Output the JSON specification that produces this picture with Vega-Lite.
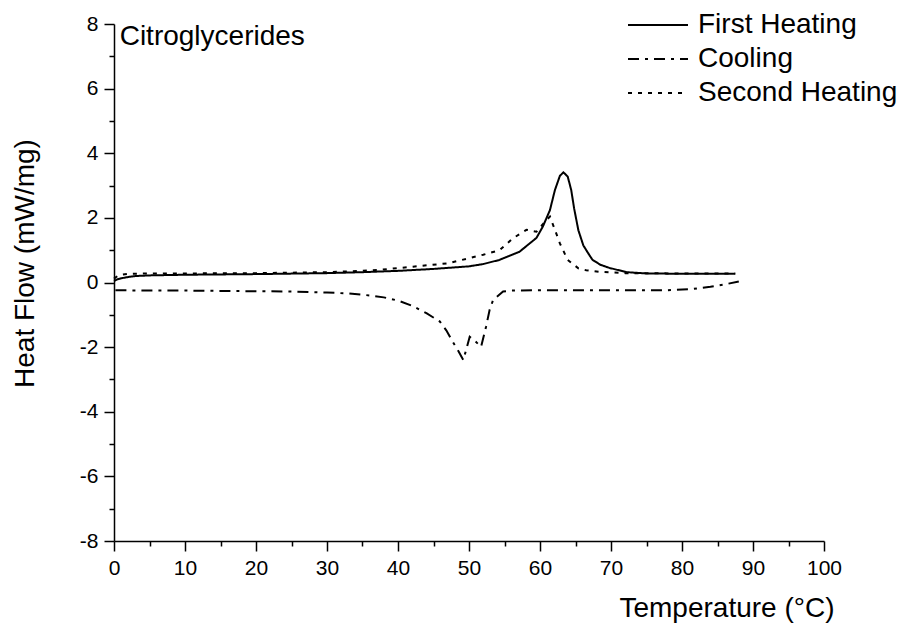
{
  "$schema": "https://vega.github.io/schema/vega-lite/v6.json",
  "width": 710,
  "height": 517,
  "autosize": {"type": "none"},
  "padding": {"left": 114, "top": 24, "right": 74, "bottom": 85},
  "background": "white",
  "config": {
    "view": {"stroke": null},
    "font": "Liberation Sans",
    "axis": {
      "grid": false,
      "domainColor": "black",
      "domainWidth": 1.5,
      "tickColor": "black",
      "tickWidth": 1.5,
      "labelColor": "black",
      "labelFont": "Liberation Sans",
      "labelFontSize": 21,
      "labelOverlap": false,
      "labelFlush": false,
      "labelPadding": 6,
      "titleColor": "black",
      "titleFont": "Liberation Sans",
      "titleFontSize": 28,
      "titleFontWeight": "normal"
    }
  },
  "resolve": {"axis": {"x": "independent", "y": "independent"}},
  "datasets": {
    "curves": [
      {"s": "First Heating", "t": 0, "h": 0.05},
      {"s": "First Heating", "t": 0.5, "h": 0.1},
      {"s": "First Heating", "t": 1, "h": 0.13},
      {"s": "First Heating", "t": 2, "h": 0.17},
      {"s": "First Heating", "t": 3, "h": 0.2},
      {"s": "First Heating", "t": 5, "h": 0.22},
      {"s": "First Heating", "t": 10, "h": 0.24},
      {"s": "First Heating", "t": 20, "h": 0.26},
      {"s": "First Heating", "t": 30, "h": 0.29},
      {"s": "First Heating", "t": 35, "h": 0.32},
      {"s": "First Heating", "t": 40, "h": 0.36},
      {"s": "First Heating", "t": 45, "h": 0.42},
      {"s": "First Heating", "t": 50, "h": 0.5},
      {"s": "First Heating", "t": 52, "h": 0.57},
      {"s": "First Heating", "t": 54.3, "h": 0.7},
      {"s": "First Heating", "t": 57.1, "h": 0.95},
      {"s": "First Heating", "t": 59.5, "h": 1.38},
      {"s": "First Heating", "t": 60.4, "h": 1.73},
      {"s": "First Heating", "t": 61.4, "h": 2.24},
      {"s": "First Heating", "t": 62.1, "h": 2.86},
      {"s": "First Heating", "t": 62.8, "h": 3.3},
      {"s": "First Heating", "t": 63.3, "h": 3.41},
      {"s": "First Heating", "t": 63.9, "h": 3.28},
      {"s": "First Heating", "t": 64.4, "h": 2.86},
      {"s": "First Heating", "t": 64.8, "h": 2.3},
      {"s": "First Heating", "t": 65.4, "h": 1.62},
      {"s": "First Heating", "t": 66.1, "h": 1.15},
      {"s": "First Heating", "t": 66.8, "h": 0.9},
      {"s": "First Heating", "t": 67.4, "h": 0.7},
      {"s": "First Heating", "t": 68.5, "h": 0.55},
      {"s": "First Heating", "t": 69.8, "h": 0.45},
      {"s": "First Heating", "t": 72.2, "h": 0.32},
      {"s": "First Heating", "t": 75, "h": 0.28},
      {"s": "First Heating", "t": 80, "h": 0.27},
      {"s": "First Heating", "t": 85, "h": 0.27},
      {"s": "First Heating", "t": 87.5, "h": 0.27},
      {"s": "Cooling", "t": 0.2, "h": -0.24},
      {"s": "Cooling", "t": 5, "h": -0.25},
      {"s": "Cooling", "t": 10, "h": -0.25},
      {"s": "Cooling", "t": 15, "h": -0.26},
      {"s": "Cooling", "t": 20, "h": -0.27},
      {"s": "Cooling", "t": 25, "h": -0.28},
      {"s": "Cooling", "t": 30, "h": -0.31},
      {"s": "Cooling", "t": 33, "h": -0.34},
      {"s": "Cooling", "t": 36, "h": -0.4},
      {"s": "Cooling", "t": 38, "h": -0.46},
      {"s": "Cooling", "t": 40, "h": -0.56},
      {"s": "Cooling", "t": 42, "h": -0.72},
      {"s": "Cooling", "t": 44, "h": -0.95},
      {"s": "Cooling", "t": 45.9, "h": -1.21},
      {"s": "Cooling", "t": 46.8, "h": -1.48},
      {"s": "Cooling", "t": 47.7, "h": -1.83},
      {"s": "Cooling", "t": 48.5, "h": -2.12},
      {"s": "Cooling", "t": 49.2, "h": -2.4},
      {"s": "Cooling", "t": 50.1, "h": -1.68},
      {"s": "Cooling", "t": 50.9, "h": -1.82},
      {"s": "Cooling", "t": 51.7, "h": -1.99},
      {"s": "Cooling", "t": 52.4, "h": -1.37},
      {"s": "Cooling", "t": 52.9, "h": -0.85},
      {"s": "Cooling", "t": 53.4, "h": -0.54},
      {"s": "Cooling", "t": 54.8, "h": -0.28},
      {"s": "Cooling", "t": 56, "h": -0.25},
      {"s": "Cooling", "t": 60, "h": -0.24},
      {"s": "Cooling", "t": 70, "h": -0.24},
      {"s": "Cooling", "t": 78, "h": -0.24},
      {"s": "Cooling", "t": 81.5, "h": -0.2},
      {"s": "Cooling", "t": 84, "h": -0.13},
      {"s": "Cooling", "t": 86, "h": -0.06},
      {"s": "Cooling", "t": 88, "h": 0.03},
      {"s": "Second Heating", "t": 0, "h": 0.12},
      {"s": "Second Heating", "t": 0.5, "h": 0.2},
      {"s": "Second Heating", "t": 1, "h": 0.24},
      {"s": "Second Heating", "t": 2, "h": 0.27},
      {"s": "Second Heating", "t": 5, "h": 0.28},
      {"s": "Second Heating", "t": 10, "h": 0.28},
      {"s": "Second Heating", "t": 20, "h": 0.29},
      {"s": "Second Heating", "t": 30, "h": 0.32},
      {"s": "Second Heating", "t": 35, "h": 0.36},
      {"s": "Second Heating", "t": 37.4, "h": 0.39},
      {"s": "Second Heating", "t": 42.1, "h": 0.49},
      {"s": "Second Heating", "t": 46.9, "h": 0.59},
      {"s": "Second Heating", "t": 50, "h": 0.75},
      {"s": "Second Heating", "t": 52, "h": 0.86},
      {"s": "Second Heating", "t": 54.3, "h": 1.0},
      {"s": "Second Heating", "t": 56.2, "h": 1.37},
      {"s": "Second Heating", "t": 58.1, "h": 1.63},
      {"s": "Second Heating", "t": 59.5, "h": 1.57},
      {"s": "Second Heating", "t": 60.7, "h": 1.88},
      {"s": "Second Heating", "t": 61.4, "h": 2.04},
      {"s": "Second Heating", "t": 62.1, "h": 1.63},
      {"s": "Second Heating", "t": 62.8, "h": 1.21},
      {"s": "Second Heating", "t": 63.9, "h": 0.7},
      {"s": "Second Heating", "t": 65.4, "h": 0.44},
      {"s": "Second Heating", "t": 66.5, "h": 0.38},
      {"s": "Second Heating", "t": 68.4, "h": 0.33},
      {"s": "Second Heating", "t": 72, "h": 0.29},
      {"s": "Second Heating", "t": 80, "h": 0.28},
      {"s": "Second Heating", "t": 87.5, "h": 0.28}
    ],
    "note": [{"t": 0.8, "h": 7.35, "label": "Citroglycerides"}]
  },
  "layer": [
    {
      "data": {"name": "curves"},
      "mark": {"type": "line", "color": "black"},
      "encoding": {
        "x": {
          "field": "t",
          "type": "quantitative",
          "scale": {"domain": [0, 100], "nice": false, "zero": false},
          "axis": {
            "orient": "bottom",
            "title": "Temperature (°C)",
            "values": [0, 10, 20, 30, 40, 50, 60, 70, 80, 90, 100],
            "tickSize": 10,
            "titleAnchor": "end",
            "titleAlign": "right",
            "titleX": 720,
            "titleY": 75,
            "titleBaseline": "alphabetic"
          }
        },
        "y": {
          "field": "h",
          "type": "quantitative",
          "scale": {"domain": [-8, 8], "nice": false, "zero": false},
          "axis": {
            "orient": "left",
            "title": "Heat Flow (mW/mg)",
            "values": [-8, -6, -4, -2, 0, 2, 4, 6, 8],
            "labelExpr": "'' + datum.value",
            "tickSize": 10,
            "titleX": -81,
            "titleY": 239,
            "titleAlign": "center",
            "titleAngle": -90,
            "titleBaseline": "alphabetic"
          }
        },
        "strokeDash": {
          "field": "s",
          "type": "nominal",
          "scale": {
            "domain": ["First Heating", "Cooling", "Second Heating"],
            "range": [[1, 0], [11, 6, 3, 6], [4, 6]]
          },
          "legend": {
            "title": null,
            "orient": "none",
            "legendX": 513,
            "legendY": -16,
            "padding": 0,
            "symbolType": "stroke",
            "symbolSize": 3600,
            "symbolStrokeWidth": 2,
            "symbolStrokeColor": "black",
            "clipHeight": 34,
            "labelFont": "Liberation Sans",
            "labelFontSize": 28,
            "labelColor": "black",
            "labelOffset": 9,
            "rowPadding": 0,
            "labelLimit": 400
          }
        },
        "strokeWidth": {
          "field": "s",
          "type": "nominal",
          "scale": {
            "domain": ["First Heating", "Cooling", "Second Heating"],
            "range": [2, 2, 3.2]
          },
          "legend": null
        }
      }
    },
    {
      "data": {"name": "note"},
      "mark": {"type": "text", "align": "left", "baseline": "alphabetic", "fontSize": 28, "font": "Liberation Sans", "color": "black"},
      "encoding": {
        "x": {
          "field": "t",
          "type": "quantitative",
          "axis": {
            "orient": "bottom",
            "title": null,
            "values": [5, 15, 25, 35, 45, 55, 65, 75, 85, 95],
            "labels": false,
            "domain": false,
            "tickSize": 5
          }
        },
        "y": {
          "field": "h",
          "type": "quantitative",
          "axis": {
            "orient": "left",
            "title": null,
            "values": [-7, -5, -3, -1, 1, 3, 5, 7],
            "labels": false,
            "domain": false,
            "tickSize": 5
          }
        },
        "text": {"field": "label"}
      }
    }
  ]
}
